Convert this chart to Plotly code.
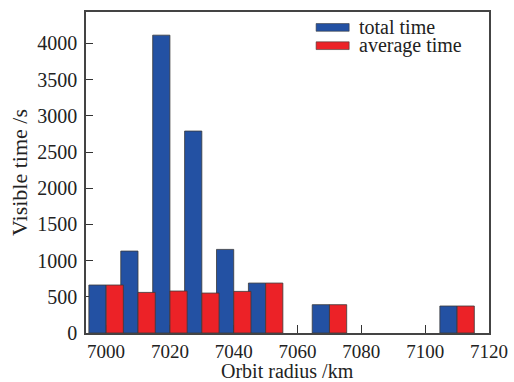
import plotly.graph_objects as go

radius = [7000, 7010, 7020, 7030, 7040, 7050, 7070, 7110]
total_time = [663, 1132, 4115, 2790, 1155, 690, 391, 373]
average_time = [663, 561, 580, 552, 575, 690, 391, 373]
x_ticks = [7000, 7020, 7040, 7060, 7080, 7100, 7120]
y_ticks = [0, 500, 1000, 1500, 2000, 2500, 3000, 3500, 4000]

BLUE = "#2351A3"
RED = "#EC2227"
EDGE = "#3a3a3a"
FONT = "Liberation Serif"

fig = go.Figure()
fig.add_trace(go.Bar(x=radius, y=total_time, name="total time", width=5.4, offset=-5.4,
                     marker=dict(color=BLUE, line=dict(color=EDGE, width=0.8)), showlegend=False))
fig.add_trace(go.Bar(x=radius, y=average_time, name="average time", width=5.4, offset=0,
                     marker=dict(color=RED, line=dict(color=EDGE, width=0.8)), showlegend=False))

# manual legend (paper coordinates of the plot area)
legend_items = [("total time", BLUE, 0.952), ("average time", RED, 0.895)]
shapes = []
annotations = []
for label, col, yy in legend_items:
    shapes.append(dict(type="rect", xref="paper", yref="paper",
                       x0=0.571, x1=0.653, y0=yy - 0.012, y1=yy + 0.012,
                       fillcolor=col, line=dict(color=EDGE, width=0.6)))
    annotations.append(dict(xref="paper", yref="paper", x=0.672, y=yy, text=label,
                            showarrow=False, xanchor="left", yanchor="middle",
                            font=dict(family=FONT, size=20, color="#222")))

# x-axis title placed below the tick labels
annotations.append(dict(xref="paper", yref="paper", x=0.5, y=-0.118, text="Orbit radius /km",
                        showarrow=False, xanchor="center", yanchor="middle",
                        font=dict(family=FONT, size=20, color="#222")))

fig.update_layout(
    width=514, height=382,
    margin=dict(l=86, r=25, t=12, b=49),
    paper_bgcolor="white", plot_bgcolor="white",
    barmode="overlay",
    font=dict(family=FONT, size=20, color="#222"),
    shapes=shapes, annotations=annotations,
    xaxis=dict(range=[6993.7, 7120], tickvals=x_ticks, ticks="inside", ticklen=8,
               tickcolor="#333", tickwidth=1.2, showline=True, linecolor="#444",
               linewidth=1.5, mirror=True, showgrid=False, zeroline=False,
               layer="below traces", automargin=False, ticklabelstandoff=0,
               tickfont=dict(family=FONT, size=19, color="#222")),
    yaxis=dict(range=[0, 4435], tickvals=y_ticks, ticks="inside", ticklen=7,
               tickcolor="#333", tickwidth=1.2, showline=True, linecolor="#444",
               linewidth=1.5, mirror=True, showgrid=False, zeroline=False,
               layer="below traces", automargin=False, ticklabelstandoff=3,
               title=dict(text="Visible time /s", font=dict(family=FONT, size=22), standoff=4)),
)

fig.write_html("out.html", config={"displayModeBar": False},
               post_script="document.body.style.margin='0';document.body.style.overflow='hidden';")
